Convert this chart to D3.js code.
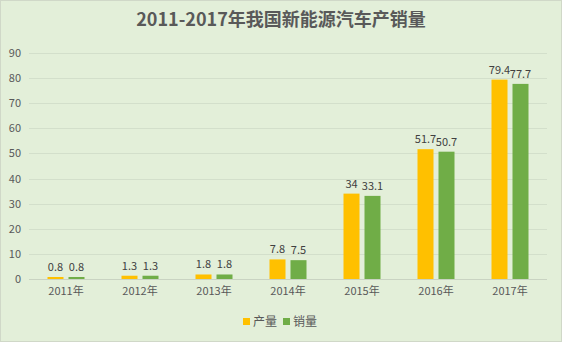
<!DOCTYPE html>
<html>
<head>
<meta charset="utf-8">
<script src="https://cdn.jsdelivr.net/npm/d3@7"></script>
<style>
  html, body { margin: 0; padding: 0; background: #e3efd9; }
  svg { display: block; }
</style>
</head>
<body>
<svg id="chart" width="562" height="342"></svg>
<script>
// 2011–2017 new-energy vehicle production and sales (10k units)
const years = ["2011年", "2012年", "2013年", "2014年", "2015年", "2016年", "2017年"];
const production = [0.8, 1.3, 1.8, 7.8, 34, 51.7, 79.4];
const sales = [0.8, 1.3, 1.8, 7.5, 33.1, 50.7, 77.7];
const seriesNames = ["产量", "销量"];
const yTicks = [0, 10, 20, 30, 40, 50, 60, 70, 80, 90];

const colors = ["#ffc000", "#70ad47"];
const W = 562, H = 342;
const margin = { top: 53, right: 15, bottom: 63, left: 29 };
const font = "'Noto Sans CJK SC', 'Noto Sans', sans-serif";

const svg = d3.select("#chart");

svg.append("rect")
  .attr("x", 0.5).attr("y", 0.5)
  .attr("width", W - 1).attr("height", H - 1)
  .attr("fill", "#e3efd9").attr("stroke", "#d0d8c8");

const x = d3.scaleBand().domain(years)
  .range([margin.left, W - margin.right]).paddingInner(0).paddingOuter(0);
const y = d3.scaleLinear().domain([0, 90]).range([H - margin.bottom, margin.top]);

// gridlines
svg.append("g").selectAll("line").data(yTicks).join("line")
  .attr("x1", margin.left).attr("x2", W - margin.right)
  .attr("y1", d => Math.round(y(d)) + 0.5).attr("y2", d => Math.round(y(d)) + 0.5)
  .attr("stroke", d => d === 0 ? "#c9d3c2" : "#d3dfcb").attr("stroke-width", 1);

// y axis labels
const yAxis = d3.axisLeft(y).tickValues(yTicks).tickSize(0).tickPadding(0);
const gy = svg.append("g").attr("transform", `translate(${margin.left - 8},0)`).call(yAxis);
gy.select(".domain").remove();
gy.selectAll("text").attr("font-family", font).attr("font-size", 11).attr("fill", "#595959");

// x axis labels
const xAxis = d3.axisBottom(x).tickSize(0).tickPadding(0);
const gx = svg.append("g").attr("transform", `translate(0,${H - margin.bottom + 8})`).call(xAxis);
gx.select(".domain").remove();
gx.selectAll("text").attr("font-family", font).attr("font-size", 11).attr("fill", "#595959");

// bars
const barW = 16, gap = 5;
const inner = d3.scaleBand().domain([0, 1])
  .range([-(barW + gap / 2), barW + gap / 2]).paddingInner(gap / (barW * 2 + gap) * 2 * 0.5);

const data = years.map((yr, i) => ({ yr, vals: [production[i], sales[i]] }));

const groups = svg.append("g").selectAll("g").data(data).join("g")
  .attr("transform", d => `translate(${x(d.yr) + x.bandwidth() / 2},0)`);

const offsets = [-(gap / 2 + barW), gap / 2];

groups.selectAll("rect").data(d => d.vals.map((v, k) => ({ v, k }))).join("rect")
  .attr("x", d => offsets[d.k])
  .attr("width", barW)
  .attr("y", d => y(d.v))
  .attr("height", d => y(0) - y(d.v))
  .attr("fill", d => colors[d.k]);

groups.selectAll("text").data(d => d.vals.map((v, k) => ({ v, k }))).join("text")
  .attr("x", d => offsets[d.k] + barW / 2)
  .attr("y", d => y(d.v) - 6)
  .attr("text-anchor", "middle")
  .attr("font-family", font).attr("font-size", 11).attr("fill", "#404040")
  .text(d => d.v);

// title
svg.append("text")
  .attr("x", W / 2).attr("y", 26)
  .attr("text-anchor", "middle")
  .attr("font-family", font).attr("font-size", 18).attr("font-weight", "bold")
  .attr("fill", "#595959")
  .text("2011-2017年我国新能源汽车产销量");

// legend
const legend = svg.append("g").attr("transform", "translate(243,322)");
const legendX = [0, 40];
seriesNames.forEach((name, i) => {
  legend.append("rect").attr("x", legendX[i]).attr("y", -4).attr("width", 7).attr("height", 7)
    .attr("fill", colors[i]);
  legend.append("text").attr("x", legendX[i] + 10).attr("y", 4)
    .attr("font-family", font).attr("font-size", 12).attr("fill", "#595959")
    .text(name);
});
</script>
</body>
</html>
